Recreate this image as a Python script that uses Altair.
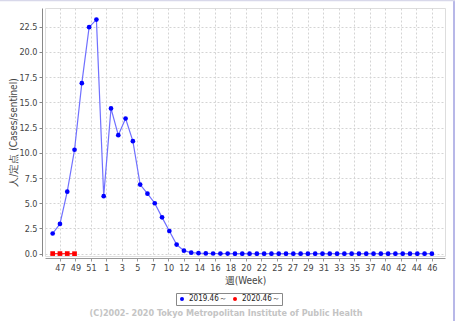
import altair as alt
import pandas as pd

# ---- data ----
weeks = [46, 47, 48, 49, 50, 51, 52] + list(range(1, 47))
season_2019 = [2.0, 2.95, 6.15, 10.3, 16.9, 22.45, 23.2, 5.7, 14.4, 11.75,
               13.4, 11.15, 6.85, 5.95, 5.0, 3.6, 2.25, 0.9, 0.3, 0.1,
               0.05, 0.03, 0.02, 0.01, 0.01, 0.0, 0.0, 0.0, 0.0, 0.0,
               0.0, 0.0, 0.0, 0.0, 0.0, 0.0, 0.0, 0.0, 0.0, 0.0,
               0.0, 0.0, 0.0, 0.0, 0.0, 0.0, 0.0, 0.0, 0.0, 0.0,
               0.0, 0.0, 0.0]
season_2020 = [0.01, 0.01, 0.01, 0.0]
series_names = ["2019.46～", "2020.46～"]
tick_labels = ["47", "49", "51", "1", "3", "5", "7", "10", "12", "14", "16",
               "18", "20", "22", "25", "27", "29", "31", "33", "35", "37",
               "40", "42", "44", "46"]
y_ticks = [0.0, 2.5, 5.0, 7.5, 10.0, 12.5, 15.0, 17.5, 20.0, 22.5]
footer_text = "(C)2002- 2020 Tokyo Metropolitan Institute of Public Health"

rows = []
for i, v in enumerate(season_2019):
    rows.append({"idx": i, "week": weeks[i], "value": v, "series": series_names[0]})
for i, v in enumerate(season_2020):
    rows.append({"idx": i, "week": weeks[i], "value": v, "series": series_names[1]})
df = pd.DataFrame(rows)

n_ticks = len(tick_labels)
span = len(weeks) - 2
tick_pos = [1 + k * span / (n_ticks - 1) for k in range(n_ticks)]
label_arr = "[" + ",".join("'%s'" % t for t in tick_labels) + "]"
label_expr = "%s[round((datum.value-1)*%d/%d)]" % (label_arr, n_ticks - 1, span)

FONT = "DejaVu Sans Condensed, Liberation Sans Narrow, Liberation Sans, sans-serif"

xscale = alt.Scale(domain=[-1.05, 53.8], nice=False, zero=False)
yscale = alt.Scale(domain=[-0.23, 24.35], nice=False, zero=False)
colors = alt.Scale(domain=series_names, range=["#0000ff", "#ff0000"])
shapes = alt.Scale(domain=series_names, range=["circle", "square"])

x_axis = alt.Axis(values=tick_pos, labelExpr=label_expr, title="週(Week)",
                  labelOverlap=False, labelBound=False,
                  grid=True, gridDash=[2, 2], gridColor="#d4d4d4",
                  domainColor="#999999", tickColor="#999999", tickSize=3,
                  offset=2, labelFont=FONT, labelFontSize=9,
                  labelColor="#444444", labelPadding=2,
                  titleFont=FONT, titleFontSize=10, titleFontWeight="normal",
                  titleColor="#444444", titlePadding=3)
y_axis = alt.Axis(values=y_ticks, format=".1f", title="人/定点 (Cases/sentinel)",
                  labelOverlap=False, labelBound=False,
                  grid=True, gridDash=[2, 2], gridColor="#d4d4d4",
                  domainColor="#888888", tickColor="#888888", tickSize=3,
                  offset=3, labelFont=FONT, labelFontSize=9,
                  labelColor="#444444", labelPadding=2,
                  titleFont=FONT, titleFontSize=10, titleFontWeight="normal",
                  titleColor="#444444", titlePadding=0)

base = alt.Chart(df)

lines = base.mark_line(strokeWidth=1.2, clip=True).encode(
    x=alt.X("idx:Q", scale=xscale, axis=x_axis),
    y=alt.Y("value:Q", scale=yscale, axis=y_axis),
    color=alt.Color("series:N", scale=alt.Scale(domain=series_names,
                                                range=["#7070ff", "#ff3030"]),
                    legend=None),
    detail="series:N",
)

points = base.mark_point(filled=True, opacity=1, clip=True).encode(
    x=alt.X("idx:Q", scale=xscale, axis=x_axis),
    y=alt.Y("value:Q", scale=yscale, axis=y_axis),
    color=alt.Color("series:N", scale=colors,
                    legend=alt.Legend(title=None, orient="none", direction="horizontal",
                                      legendX=131, legendY=285, padding=2,
                                      strokeColor="#888888", fillColor="white",
                                      labelFont=FONT, labelFontSize=8, labelColor="#222222",
                                      symbolSize=16, columnPadding=4, labelOffset=3)),
    shape=alt.Shape("series:N", scale=shapes),
    size=alt.SizeValue(22),
)

footer = alt.Chart(pd.DataFrame({"t": [footer_text]})).mark_text(
    font=FONT, fontSize=9, fontWeight="bold", color="#c4c4c4"
).encode(text="t:N", x=alt.value(181), y=alt.value(305))

right_edge = alt.Chart(pd.DataFrame({"a": [0]})).mark_rule(
    color="#b8b8e8", strokeWidth=2
).encode(x=alt.value(409), y=alt.value(-8), y2=alt.value(313))

top_edge = alt.Chart(pd.DataFrame({"a": [0]})).mark_rule(
    color="#d8d8ea", strokeWidth=1.5
).encode(x=alt.value(-45), x2=alt.value(410), y=alt.value(-7.5))

chart = alt.layer(lines, points, footer, right_edge, top_edge).resolve_scale(
    color="independent"
).properties(
    width=400, height=248,
    padding={"left": 45, "top": 8, "right": 10, "bottom": 65},
    autosize=alt.AutoSizeParams(type="none"),
).configure_view(stroke="#c8c8c8", strokeWidth=1).configure_axis(
    labelOverlap=False
).configure(background="white")

chart.save("out.html", embed_options={"renderer": "svg", "actions": False})
